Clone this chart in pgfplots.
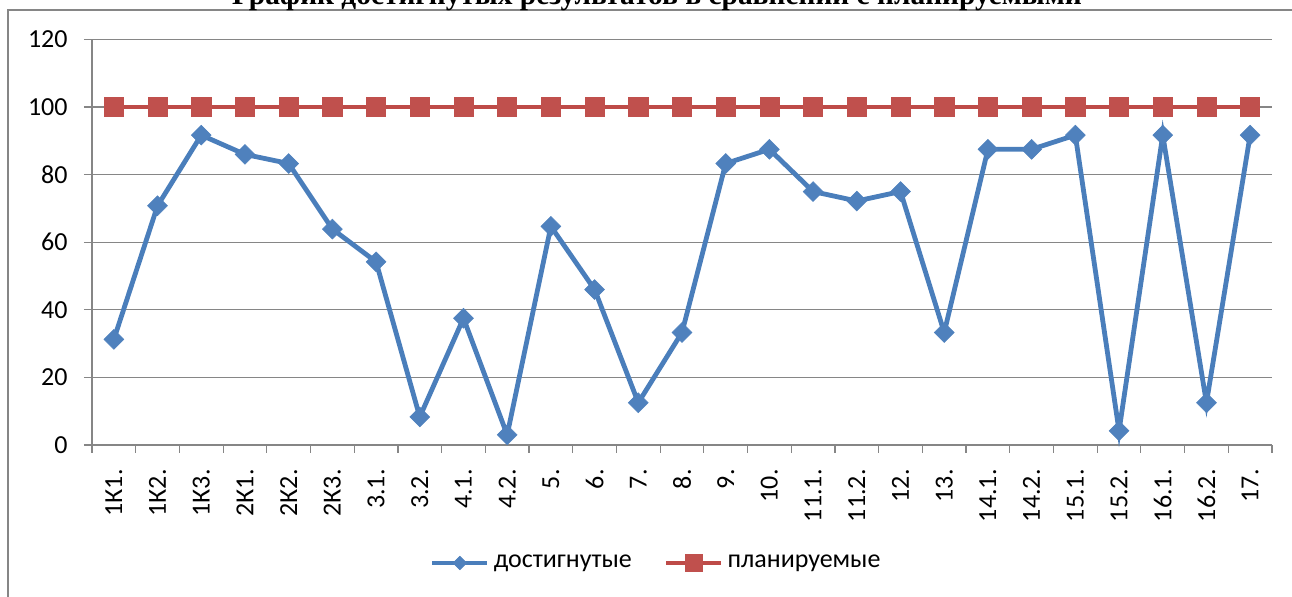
\documentclass[border=0pt]{standalone}
\usepackage{pgfplots}
\pgfplotsset{compat=1.18}
\usepackage{fontspec}
\setmainfont{Carlito}
\newfontfamily\titlefont{Liberation Serif}
\definecolor{axisgray}{HTML}{868686}
\definecolor{serblue}{HTML}{4A7EBB}
\definecolor{serbluef}{HTML}{4F81BD}
\definecolor{serred}{HTML}{BE4B48}
\definecolor{serredf}{HTML}{C0504D}
\begin{document}
\begin{tikzpicture}
\useasboundingbox (0,0) rectangle (646pt,-298.5pt);
\draw[axisgray, line width=0.6pt] (4pt,-320pt) -- (4pt,-5pt) -- (700pt,-5pt);
\node[font=\titlefont\bfseries\fontsize{14.7}{18}\selectfont, anchor=base, inner sep=0pt] at (328.5pt,-2.5pt) {График достигнутых результатов в сравнении с планируемыми};
\begin{axis}[
  at={(46pt,-222.5pt)}, anchor=south west,
  scale only axis, width=590pt, height=202.75pt,
  xmin=-0.5, xmax=26.5, ymin=0, ymax=120,
  axis x line*=bottom, axis y line*=left,
  axis line style={draw=axisgray, line width=0.6pt},
  tick align=outside, major tick length=4pt,
  xtick={0,...,26},
  xticklabels={1К1.,1К2.,1К3.,2К1.,2К2.,2К3.,3.1.,3.2.,4.1.,4.2.,5.,6.,7.,8.,9.,10.,11.1.,11.2.,12.,13.,14.1.,14.2.,15.1.,15.2.,16.1.,16.2.,17.},
  xtick style={draw=none},
  extra x ticks={-0.5,0.5,...,26.5},
  extra x tick labels={},
  extra x tick style={grid=none, xtick style={draw=axisgray, line width=0.6pt}},
  ytick={0,20,...,120},
  ytick style={draw=axisgray, line width=0.6pt},
  ymajorgrids, grid style={axisgray, line width=0.6pt},
  /pgf/number format/assume math mode=true,
  ticklabel style={font=\fontsize{13}{15}\selectfont},
  xticklabel style={rotate=90, anchor=east, inner sep=0pt, xshift=-8pt},
  yticklabel style={anchor=east, inner sep=0pt, xshift=-8pt},
  legend columns=2,
  legend style={at={(0.479,-0.291)}, anchor=center, draw=none, fill=none,
    font=\fontsize{13}{15}\selectfont,
    /tikz/every even column/.append style={column sep=14pt}},
  legend image code/.code={\draw[mark repeat=2,mark phase=2,#1] plot coordinates {(0pt,0pt)(13.75pt,0pt)(27.5pt,0pt)};},
  clip=false,
]
\addplot[serblue, line width=2.4pt, mark=square*, mark size=3.5pt,
  mark options={rotate=45, fill=serbluef, draw=serbluef, line width=0.3pt},
  legend image post style={mark size=2.4pt}]
  coordinates {(0,31.25) (1,70.8) (2,91.7) (3,86) (4,83.3) (5,63.9) (6,54.2) (7,8.3) (8,37.5) (9,3) (10,64.7) (11,46) (12,12.5) (13,33.3) (14,83.3) (15,87.5) (16,75) (17,72.2) (18,75) (19,33.3) (20,87.5) (21,87.5) (22,91.7) (23,4.2) (24,91.7) (25,12.5) (26,91.7)};
\addlegendentry{достигнутые}
\addplot[serred, line width=2.4pt, mark=square*, mark size=4.8pt,
  mark options={fill=serredf, draw=serredf, line width=0.3pt},
  legend image post style={mark size=4.4pt}]
  coordinates {(0,100) (1,100) (2,100) (3,100) (4,100) (5,100) (6,100) (7,100) (8,100) (9,100) (10,100) (11,100) (12,100) (13,100) (14,100) (15,100) (16,100) (17,100) (18,100) (19,100) (20,100) (21,100) (22,100) (23,100) (24,100) (25,100) (26,100)};
\addlegendentry{планируемые}
\end{axis}
\end{tikzpicture}
\end{document}
